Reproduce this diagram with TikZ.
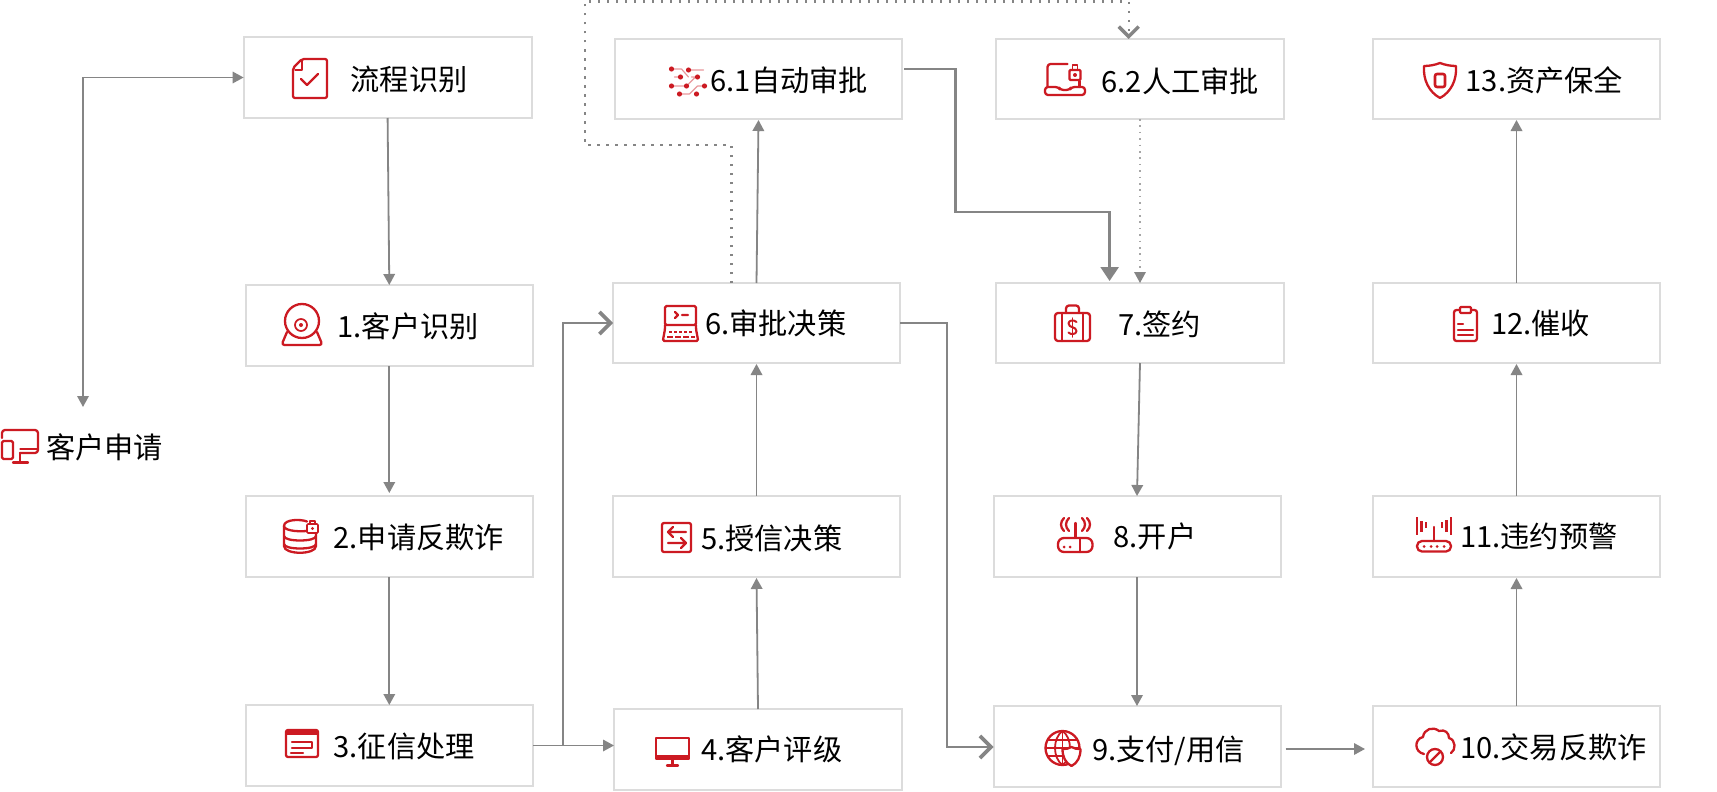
\documentclass[tikz,border=0pt]{standalone}
\usepackage{fontspec}
\setmainfont{Noto Sans CJK SC}
\usetikzlibrary{arrows.meta,calc}
\definecolor{iconred}{HTML}{CC1A22}
\definecolor{boxline}{HTML}{DCDCDC}
\definecolor{linegray}{HTML}{858585}
\tikzset{
  box/.style={draw=boxline,line width=2pt,fill=white,rectangle,inner sep=0pt,outer sep=0pt},
  lab/.style={anchor=west,inner sep=0pt,outer sep=0pt,text=black,xshift=0.6pt,yshift=-0.8pt,font=\fontsize{29.2}{34}\selectfont},
  conn/.style={draw=linegray,line width=1.8pt,-{Triangle[length=11pt,width=11.5pt]}},
  openconn/.style={draw=linegray,line width=2.2pt,-{Straight Barb[length=11pt,width=22pt,line width=3.6pt]}},
  bigconn/.style={draw=linegray,line width=2.4pt,-{Triangle[length=14pt,width=18pt]}},
  dotconn/.style={draw=linegray,line width=2.3pt,dash pattern=on 2.3pt off 6.7pt,-{Straight Barb[length=10pt,width=20pt,line width=3.4pt]}},
  dotfine/.style={draw=gray!70,line width=1.6pt,dash pattern=on 1.6pt off 4.8pt,-{Triangle[length=11pt,width=11.5pt,color=linegray]}},
  ic/.style={draw=iconred,line width=2.3pt,line join=round,line cap=round},
  ict/.style={draw=iconred,line width=1.2pt,line join=round,line cap=round},
}
\begin{document}
\begin{tikzpicture}[x=1pt,y=-1pt]
\useasboundingbox (0,0) rectangle (1717,792);
\fill[white] (0,0) rectangle (1717,792);
% boxes
\node[box,minimum width=288pt,minimum height=81pt] (n0) at (387.6,77.5) {};
\node[box,minimum width=287.5pt,minimum height=81pt] (n1) at (389.3,325.5) {};
\node[box,minimum width=287.5pt,minimum height=81pt] (n2) at (389.3,536.5) {};
\node[box,minimum width=287.5pt,minimum height=81pt] (n3) at (389.3,745.5) {};
\node[box,minimum width=287pt,minimum height=80pt] (n61) at (758.5,79) {};
\node[box,minimum width=287pt,minimum height=80pt] (n6) at (756.5,323) {};
\node[box,minimum width=287pt,minimum height=81pt] (n5) at (756.5,536.5) {};
\node[box,minimum width=288pt,minimum height=81pt] (n4) at (758,749.5) {};
\node[box,minimum width=288pt,minimum height=80pt] (n62) at (1140,79) {};
\node[box,minimum width=288pt,minimum height=80pt] (n7) at (1140,323) {};
\node[box,minimum width=287pt,minimum height=81pt] (n8) at (1137,536.5) {};
\node[box,minimum width=287pt,minimum height=81pt] (n9) at (1137,746.5) {};
\node[box,minimum width=287pt,minimum height=80pt] (n13) at (1516.5,79) {};
\node[box,minimum width=287pt,minimum height=80pt] (n12) at (1516.5,323) {};
\node[box,minimum width=287pt,minimum height=81pt] (n11) at (1516.5,536.5) {};
\node[box,minimum width=287pt,minimum height=81pt] (n10) at (1516.5,746.5) {};
% labels
\node[lab] (t0) at (350,79) {流程识别};
\node[lab] (t1) at (337,326) {1.客户识别};
\node[lab] (t2) at (333,537) {2.申请反欺诈};
\node[lab] (t3) at (333,746) {3.征信处理};
\node[lab] (tc) at (45.5,447) {客户申请};
\node[lab] (t61) at (710,80) {6.1自动审批};
\node[lab] (t62) at (1101,80) {6.2人工审批};
\node[lab] (t6) at (704.5,323) {6.审批决策};
\node[lab] (t5) at (700.5,538) {5.授信决策};
\node[lab] (t4) at (700.5,749) {4.客户评级};
\node[lab] (t7) at (1117.5,323) {7.签约};
\node[lab] (t8) at (1113,536) {8.开户};
\node[lab] (t9) at (1091.5,750) {9.支付/用信};
\node[lab] (t13) at (1465,80) {13.资产保全};
\node[lab] (t12) at (1490.5,323) {12.催收};
\node[lab] (t11) at (1459.5,536) {11.违约预警};
\node[lab] (t10) at (1459.5,747) {10.交易反欺诈};
% free end
\coordinate (cust) at (83,407);
\coordinate (bend0) at (83,77.5);
% connectors
\draw[conn,{Triangle[length=11pt,width=11.5pt]}-{Triangle[length=11pt,width=11.5pt]}] (cust) -- (bend0) -- (n0.west);
\draw[conn] (n0.south) -- (n1.north);
\draw[conn,shorten >=3pt] (n1.south) -- (n2.north);
\draw[conn] (n2.south) -- (n3.north);
\draw[conn] (n3.east) -- (n3.east -| n4.west);
\coordinate (j3) at (563,745.5);
\draw[openconn] (j3) |- (n6.west);
\draw[conn,shorten >=1pt] (n4.north) -- (n5.south);
\draw[conn,shorten >=1pt] (n5.north) -- (n6.south);
\draw[conn,shorten >=1pt] (n6.north) -- (n61.south);
\coordinate (dA) at (731.5,145);
\coordinate (dB) at (585,145);
\coordinate (dC) at (585,1.5);
\coordinate (dD) at (1128.7,1.5);
\draw[dotconn] (n6.north -| dA) -- (dA) -- (dB) -- (dC) -- (dD) -- (dD |- n62.north);
\coordinate (eA) at (955.4,69);
\coordinate (eB) at (955.4,212);
\coordinate (eC) at (1109.6,212);
\draw[bigconn,shorten >=2pt] ($(n61.east)+(2,-10)$) -- (eA) -- (eB) -- (eC) -- (eC |- n7.north);
\draw[dotfine] (n62.south) -- (n7.north);
\draw[conn] (n7.south) -- (n8.north);
\draw[conn] (n8.south) -- (n9.north);
\coordinate (fA) at (947,323);
\draw[openconn] (n6.east) -- (fA) -- (fA |- 0,747) -- (n9.west |- 0,747);
\draw[conn,shorten >=8pt] ($(n9.east)+(5,2.5)$) -- ($(n10.west)+(0,2.5)$);
\draw[conn,shorten >=1pt] (n10.north) -- (n11.south);
\draw[conn,shorten >=1pt] (n11.north) -- (n12.south);
\draw[conn,shorten >=1pt] (n12.north) -- (n13.south);
% icon: document with check
\begin{scope}[shift={(293,59)}]
\draw[ic,rounded corners=2pt] (9,0) -- (34,0) -- (34,39) -- (0,39) -- (0,9) -- cycle;
\draw[ict] (2,11) -- (9,11) -- (9,2);
\draw[ic] (8,20) -- (14,26) -- (25,15);
\end{scope}
% icon: webcam
\begin{scope}[shift={(281,304)}]
\draw[ic] (21,17) circle (17pt);
\draw[ic,line width=1.7pt] (20,21) circle (6pt);
\fill[iconred] (20,21) circle (2pt);
\draw[ic,rounded corners=3pt] (6,28) -- (0.5,41) -- (41.5,41) -- (36,28);
\end{scope}
% icon: desktop & phone
\begin{scope}[shift={(1,429)}]
\draw[ic,rounded corners=3pt] (1,9) -- (1,1) -- (37,1) -- (37,24) -- (19,24);
\draw[ict] (19,20) -- (37,20);
\draw[ic,rounded corners=1.5pt] (1,12) rectangle (12,30);
\draw[ic] (19,24) -- (19,33) (12,33.5) -- (27,33.5);
\end{scope}
% icon: database with lock
\begin{scope}[shift={(283,519)}]
\draw[ic] (24,2.5) .. controls (18,0) and (1,0) .. (1,7) -- (1,27) .. controls (1,36) and (33,36) .. (33,27) -- (33,14);
\draw[ic] (1,7) .. controls (1,11) and (12,13) .. (24,12);
\draw[ic] (1,17) .. controls (1,23) and (33,23) .. (33,17);
\draw[ic] (1,25) .. controls (1,31) and (33,31) .. (33,25);
\draw[ic,line width=1.7pt,rounded corners=1pt] (24,5) rectangle (35,14);
\draw[ict,line width=1.5pt] (27,5) -- (27,2) -- (32,2) -- (32,5);
\fill[iconred] (29.5,9.5) circle (1.6pt);
\end{scope}
% icon: card
\begin{scope}[shift={(285,729)}]
\draw[ic,rounded corners=2pt] (1,1) rectangle (33,28);
\fill[iconred] (1,1) rectangle (33,6);
\draw[ic] (7,13) -- (27,13) -- (27,19) -- (7,19);
\draw[ic] (6,24) -- (18,24);
\end{scope}
% icon: circuit
\begin{scope}[shift={(669.5,66)}]
\draw[ict,draw=iconred!45] (2,3) -- (12,3) -- (19,11) (19,4) -- (34,4) (2,20) -- (17,20) (17,20) -- (26,11) -- (22,11) (36,20) -- (28,20) -- (20,28) -- (10,28) (11,11) -- (5,11);
\foreach \p in {(2,3),(19,4),(11,11),(28,11),(2,20),(17,20),(35,20),(10,28),(27,28)} \fill[iconred] \p circle (2.6pt);
\end{scope}
% icon: laptop with lock
\begin{scope}[shift={(1044.5,63)}]
\draw[ic,rounded corners=3pt] (3,24) -- (3,1) -- (23,1);
\draw[ic] (35,18) -- (35,24);
\draw[ic,rounded corners=3pt] (0.5,24) -- (14,24) -- (16,27) -- (25,27) -- (27,24) -- (40.5,24) -- (40.5,32) -- (0.5,32) -- cycle;
\draw[ic,rounded corners=1pt] (25,7) rectangle (36,17);
\draw[ic,line width=1.6pt] (28,7) -- (28,2) -- (33,2) -- (33,7);
\fill[iconred] (30.5,12) circle (2pt);
\end{scope}
% icon: terminal
\begin{scope}[shift={(662,305)}]
\draw[ic,rounded corners=1.5pt] (3,1) rectangle (34,20);
\draw[ic] (13,7) -- (16,10) -- (13,13) (20,10) -- (26,10);
\draw[ic,rounded corners=1.5pt] (3,20) -- (3,24) -- (0.8,36) -- (36.2,36) -- (34,24) -- (34,20);
\draw[ic,line cap=butt,dash pattern=on 3pt off 2pt] (7,27) -- (31,27);
\draw[ic,line cap=butt,dash pattern=on 6pt off 2pt] (5,32) -- (33,32);
\end{scope}
% icon: case with dollar
\begin{scope}[shift={(1054,304)}]
\draw[ic,rounded corners=3pt] (1,9) rectangle (36,37);
\draw[ic] (8,9) -- (8,37) (29,9) -- (29,37);
\draw[ic,rounded corners=3pt] (12,9) -- (12,1.5) -- (25,1.5) -- (25,9);
\draw[ic,line width=2pt] (22.5,18) .. controls (20,15.5) and (14.5,16) .. (14.5,19.5) .. controls (14.5,24) and (22.5,22.5) .. (22.5,27) .. controls (22.5,30.5) and (16.5,31) .. (14.5,28.5);
\draw[ic,line width=1.5pt] (18.5,14) -- (18.5,33);
\end{scope}
% icon: exchange
\begin{scope}[shift={(661,522)}]
\draw[ic,rounded corners=2pt] (1,1) rectangle (30,30);
\draw[ic] (25,10) -- (7,10) (12,5) -- (7,10) -- (12,15);
\draw[ic] (7,21) -- (25,21) (20,16) -- (25,21) -- (20,26);
\end{scope}
% icon: antenna router
\begin{scope}[shift={(1057,517)}]
\draw[ic] (18.5,6) -- (18.5,20);
\draw[ic,rounded corners=6pt] (1,21) rectangle (35.5,35);
\draw[ic] (23,21) -- (23,35);
\draw[ic] (12,1) .. controls (8,5) and (8,10) .. (12,14);
\draw[ic] (7,1) .. controls (3,5) and (3,10) .. (7,14);
\draw[ic] (25,1) .. controls (29,5) and (29,10) .. (25,14);
\draw[ic] (30,1) .. controls (34,5) and (34,10) .. (30,14);
\fill[iconred] (7,30) circle (1.5pt) (13,30) circle (1.5pt);
\end{scope}
% icon: monitor
\begin{scope}[shift={(655,737)}]
\draw[ic] (1,1) rectangle (34,22);
\fill[iconred] (1,18) rectangle (34,23);
\draw[ic] (17.5,23) -- (17.5,28) (12,28.5) -- (23,28.5);
\end{scope}
% icon: globe with shield
\begin{scope}[shift={(1044.5,730)}]
\draw[ic] (18,18) circle (17pt);
\draw[ic,line width=1.8pt] (18,1) .. controls (8,8) and (8,28) .. (18,35);
\draw[ic,line width=1.8pt] (18,1) .. controls (28,8) and (28,28) .. (18,35);
\draw[ic,line width=1.8pt] (18,1) -- (18,35);
\draw[ic,line width=1.8pt] (3,10) -- (33,10) (1,18) -- (35,18) (3,26) -- (33,26);
\draw[ic,fill=white] (27,17) .. controls (30,19) and (33,19) .. (36,19) .. controls (36,27) and (33,33) .. (27,36) .. controls (21,33) and (18,27) .. (18,19) .. controls (21,19) and (24,19) .. (27,17) -- cycle;
\end{scope}
% icon: shield
\begin{scope}[shift={(1423,62)}]
\draw[ic] (17,1) .. controls (22,3) and (28,4) .. (33,4) .. controls (34,18) and (28,30) .. (17,36) .. controls (6,30) and (0,18) .. (1,4) .. controls (6,4) and (12,3) .. (17,1) -- cycle;
\draw[ic,line width=2.6pt,rounded corners=2pt] (12,12) rectangle (22,25);
\end{scope}
% icon: clipboard
\begin{scope}[shift={(1453,306)}]
\draw[ic,rounded corners=2.5pt] (1,4) rectangle (24,35);
\draw[ic,fill=white,rounded corners=1pt] (7,1) rectangle (18,7);
\draw[ic] (5,18) -- (10,18) (5,24) -- (20,24) (5,29) -- (20,29);
\end{scope}
% icon: router bars
\begin{scope}[shift={(1416,517)}]
\draw[ic,rounded corners=5pt] (1,24) rectangle (35,34.5);
\draw[ic] (18,10) -- (18,24);
\draw[ic,line cap=butt] (1,0) -- (1,18) (5.5,4) -- (5.5,15) (10,5) -- (10,11) (26,5) -- (26,11) (30.5,3) -- (30.5,15) (35,0) -- (35,18);
\fill[iconred] (8,29.5) circle (1.5pt) (15,29.5) circle (1.5pt) (21,29.5) circle (1.5pt) (28,29.5) circle (1.5pt);
\end{scope}
% icon: cloud blocked
\begin{scope}[shift={(1416,727)}]
\draw[ic] (8,27) .. controls (-2,25) and (-2,12) .. (7,10) .. controls (8,2) and (17,-1) .. (23,4) .. controls (29,2) and (33,6) .. (33,11) .. controls (40,13) and (40,23) .. (35,26);
\draw[ic] (19,30) circle (8pt);
\draw[ic] (14,35) -- (24,25);
\end{scope}
\end{tikzpicture}
\end{document}
